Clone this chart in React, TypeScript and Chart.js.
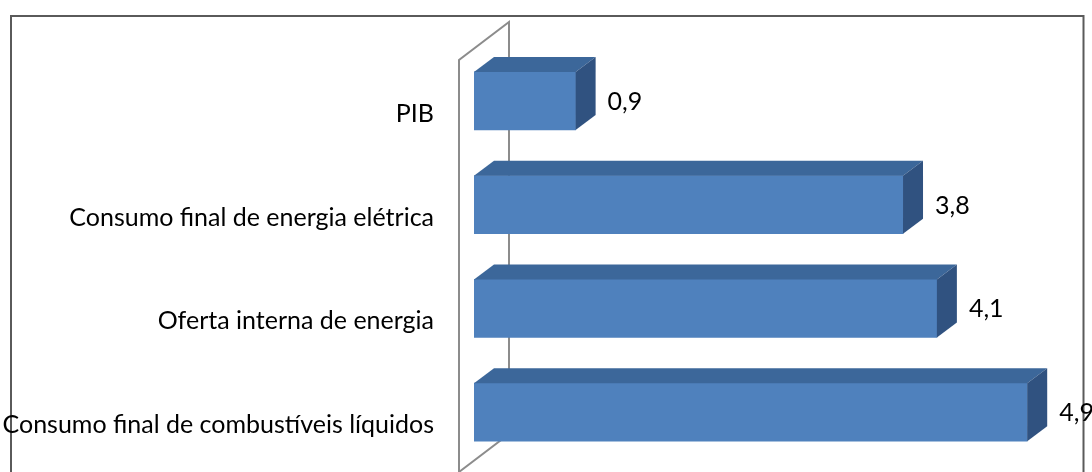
import React, { useEffect, useRef } from "react";
import { Chart, registerables } from "chart.js";

Chart.register(...registerables);

const categories = [
  "PIB",
  "Consumo final de energia elétrica",
  "Oferta interna de energia",
  "Consumo final de combustíveis líquidos",
];
const values = [0.9, 3.8, 4.1, 4.9];
const valueLabels = ["0,9", "3,8", "4,1", "4,9"];

const FONT_FAMILY = "Lato, 'Open Sans', 'DejaVu Sans', sans-serif";
const FRONT = "#4F81BD";
const TOP = "#3C679A";
const SIDE = "#305280";
const DX = 20;
const DY = 15;

const threeDPlugin = {
  id: "threeD",
  beforeDraw(chart: any) {
    const ctx = chart.ctx;
    ctx.save();
    ctx.fillStyle = "#ffffff";
    ctx.fillRect(0, 0, chart.width, chart.height);
    ctx.strokeStyle = "#5a5a5a";
    ctx.lineWidth = 2;
    ctx.strokeRect(11, 16, 1072.5, 520);
    ctx.restore();
  },
  beforeDatasetsDraw(chart: any) {
    const ctx = chart.ctx;
    const a = chart.chartArea;
    const fx = a.left - 15;
    const bx = a.left + 35;
    ctx.save();
    ctx.strokeStyle = "#8c8c8c";
    ctx.lineWidth = 2;
    ctx.beginPath();
    ctx.moveTo(fx, chart.height + 10);
    ctx.lineTo(fx, 60);
    ctx.lineTo(bx, 22);
    ctx.lineTo(bx, 434);
    ctx.lineTo(fx, 472);
    ctx.stroke();
    ctx.restore();
  },
  afterDatasetsDraw(chart: any) {
    const ctx = chart.ctx;
    const meta = chart.getDatasetMeta(0);
    ctx.save();
    meta.data.forEach((bar: any, i: number) => {
      const x0 = bar.base;
      const x1 = bar.x;
      const top = bar.y - bar.height / 2;
      const bottom = bar.y + bar.height / 2;
      ctx.fillStyle = TOP;
      ctx.beginPath();
      ctx.moveTo(x0, top);
      ctx.lineTo(x0 + DX, top - DY);
      ctx.lineTo(x1 + DX, top - DY);
      ctx.lineTo(x1, top);
      ctx.closePath();
      ctx.fill();
      ctx.fillStyle = SIDE;
      ctx.beginPath();
      ctx.moveTo(x1, top);
      ctx.lineTo(x1 + DX, top - DY);
      ctx.lineTo(x1 + DX, bottom - DY);
      ctx.lineTo(x1, bottom);
      ctx.closePath();
      ctx.fill();
      ctx.fillStyle = "#000000";
      ctx.font = `25px ${FONT_FAMILY}`;
      ctx.textAlign = "left";
      ctx.textBaseline = "middle";
      ctx.fillText(valueLabels[i], x1 + DX + 12, bar.y + 1);
    });
    ctx.restore();
  },
};

export default function App() {
  const ref = useRef<HTMLCanvasElement | null>(null);
  useEffect(() => {
    if (!ref.current) return;
    const chart = new Chart(ref.current, {
      type: "bar",
      data: {
        labels: categories,
        datasets: [
          {
            data: values,
            backgroundColor: FRONT,
            borderWidth: 0,
            barThickness: 58,
          },
        ],
      },
      options: {
        indexAxis: "y",
        responsive: false,
        animation: false,
        layout: { padding: { left: 0, right: 53.5, top: 49, bottom: 8 } },
        plugins: { legend: { display: false }, tooltip: { enabled: false } },
        scales: {
          x: { display: false, min: 0, max: 5 },
          y: {
            grid: { display: false, drawTicks: false },
            border: { display: false },
            ticks: {
              color: "#000000",
              padding: 40,
              labelOffset: 13,
              font: { family: FONT_FAMILY, size: 25 },
            },
            afterFit(scale: any) {
              scale.width = 474;
              scale.paddingTop = 0;
              scale.paddingBottom = 0;
            },
          },
        },
      },
      plugins: [threeDPlugin],
    });
    return () => chart.destroy();
  }, []);
  return (
    <div style={{ position: "fixed", left: 0, top: 0, width: 1092, height: 472 }}>
      <canvas ref={ref} width={1092} height={472} />
    </div>
  );
}
